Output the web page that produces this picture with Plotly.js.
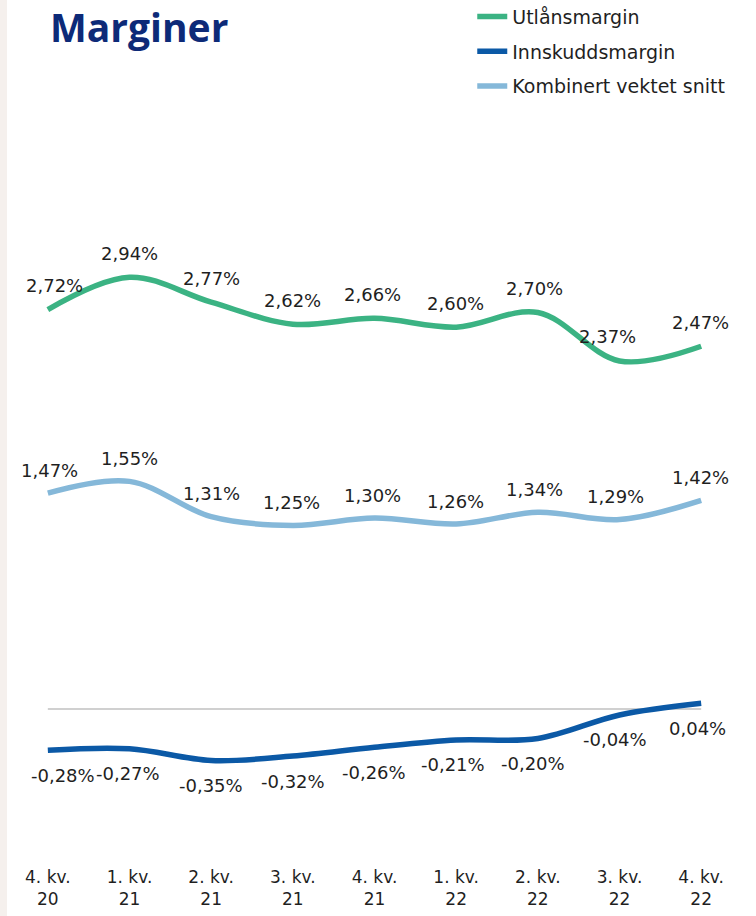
<!DOCTYPE html>
<html><head><meta charset="utf-8">
<script src="https://cdn.plot.ly/plotly-3.0.1.min.js"></script>
<style>html,body{margin:0;padding:0;background:#fff;}#chart{width:756px;height:916px;}</style>
</head><body><div id="chart"></div>
<script>
const categories = ["4. kv.<br>20","1. kv.<br>21","2. kv.<br>21","3. kv.<br>21","4. kv.<br>21","1. kv.<br>22","2. kv.<br>22","3. kv.<br>22","4. kv.<br>22"];
const utlansmargin = [2.72,2.94,2.77,2.62,2.66,2.60,2.70,2.37,2.47];
const innskuddsmargin = [-0.28,-0.27,-0.35,-0.32,-0.26,-0.21,-0.20,-0.04,0.04];
const kombinert = [1.47,1.55,1.31,1.25,1.30,1.26,1.34,1.29,1.42];
const seriesNames = ["Utlånsmargin","Innskuddsmargin","Kombinert vektet snitt"];

const colors = ["#3bb383","#0b59a6","#85b8d9"];
const FONT = "DejaVu Sans, sans-serif";
const idx = categories.map((_, i) => i);

function fmt(v){ return v.toFixed(2).replace('.', ',') + '%'; }

const traces = [utlansmargin, innskuddsmargin, kombinert].map((vals, k) => ({
  x: idx, y: vals, type: 'scatter', mode: 'lines', name: seriesNames[k],
  legendgroup: 'g' + k,
  line: {color: colors[k], width: 5.5, shape: 'spline', smoothing: 1},
  hoverinfo: 'skip'
}));

// label offsets (styling only)
const xs = {
  0: [7,0,0,0,-2,-1,-3,-12,-1],
  1: [15,-2,0,0,-1,-3,-5,-5,-4],
  2: [2,0,0,-1,-2,-1,-3,-4,-1]
};
const ys = {0: 24, 1: -25, 2: 23};
const annotations = [];
[utlansmargin, innskuddsmargin, kombinert].forEach((vals, k) => {
  vals.forEach((v, i) => {
    annotations.push({x: i, y: v, xref: 'x', yref: 'y', text: fmt(v), showarrow: false,
      xshift: xs[k][i], yshift: ys[k], font: {family: FONT, size: 18, color: '#1f1f1f'}});
  });
});

const layout = {
  width: 756, height: 916,
  margin: {l: 7, r: 14, t: 239, b: 60, autoexpand: false},
  paper_bgcolor: '#ffffff', plot_bgcolor: '#ffffff',
  title: {text: '<b>Marginer</b>', x: 50/756, xref: 'container', xanchor: 'left',
          y: 1 - 28/916, yref: 'container', yanchor: 'middle',
          font: {family: "Open Sans, sans-serif", size: 39, color: '#0d2a78', weight: 800}},
  showlegend: true,
  legend: {x: 0.633, xanchor: 'left', y: 1.391, yanchor: 'top', traceorder: 'grouped',
           tracegroupgap: 7, font: {family: FONT, size: 19, color: '#1f1f1f'},
           bgcolor: 'rgba(0,0,0,0)'},
  xaxis: {range: [-0.5, 8.5], tickmode: 'array', tickvals: idx, ticktext: categories,
          showgrid: false, zeroline: false, showline: false, ticks: '',
          tickfont: {family: FONT, size: 17, color: '#1f1f1f'}, ticklabelstandoff: 9, fixedrange: true},
  yaxis: {range: [-1.0, 3.2], visible: false, showgrid: false, zeroline: false, fixedrange: true},
  shapes: [
    {type: 'line', xref: 'x', yref: 'y', x0: 0, x1: 8, y0: 0, y1: 0, line: {color: '#c0c0c0', width: 1.5}, layer: 'below'},
    {type: 'rect', xref: 'paper', yref: 'paper', x0: -7/735, x1: 0, y0: -0.2, y1: 1.5, fillcolor: '#f5f0ed', line: {width: 0}, layer: 'below'}
  ],
  annotations: annotations
};

Plotly.newPlot('chart', traces, layout, {staticPlot: true, displayModeBar: false});
</script></body></html>
